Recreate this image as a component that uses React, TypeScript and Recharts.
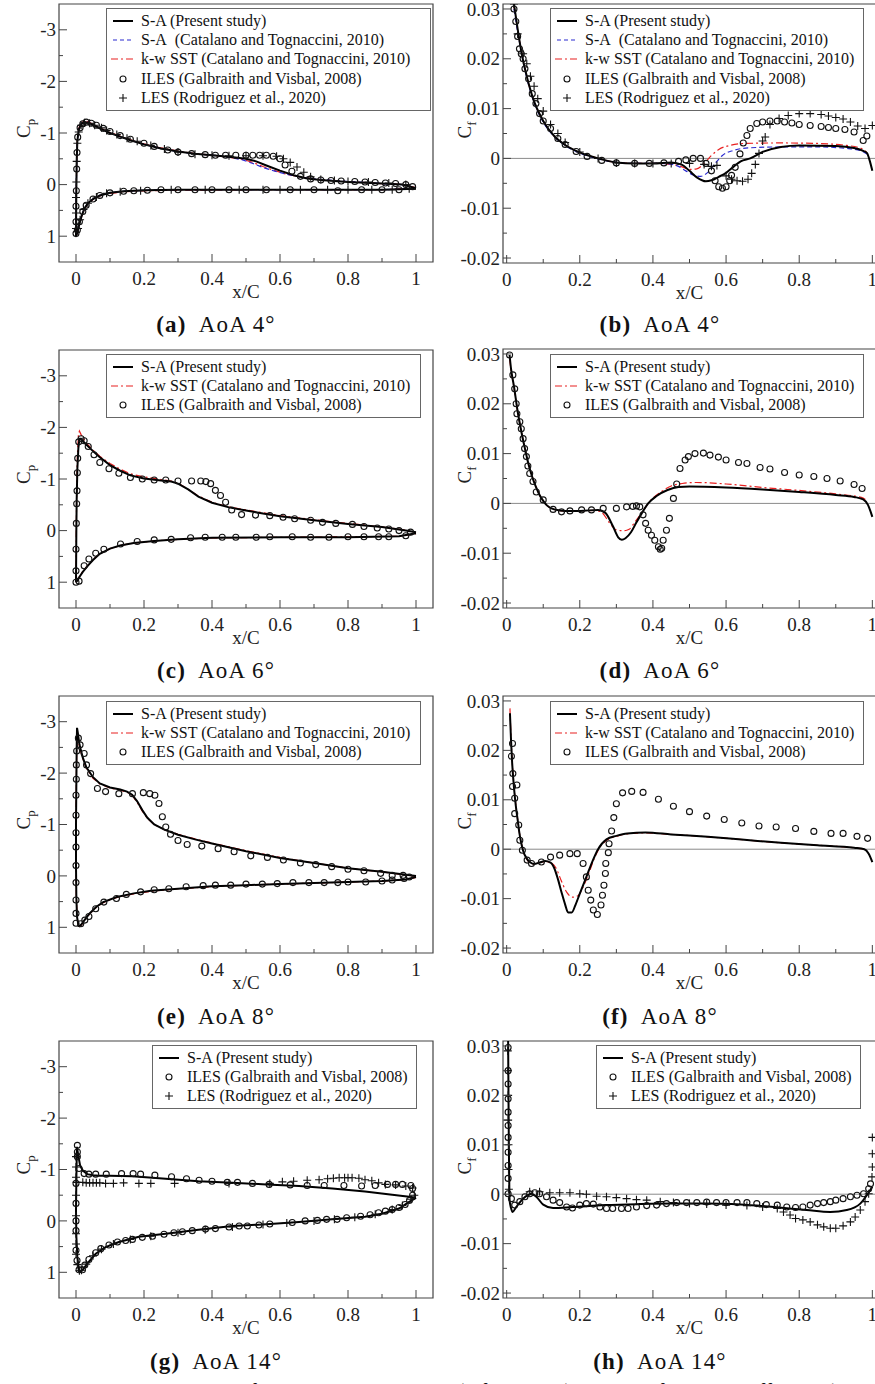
import React from "react";
import { ComposedChart, Line, Scatter, XAxis, YAxis, ReferenceLine, ReferenceArea, Legend } from "recharts";

const FONT = "'Liberation Serif', 'Times New Roman', serif";
const AXIS = "#444";
const TXT = "#222";
const BLUE = "#2a2ad0";
const RED = "#e82020";

// axis ticks
const X_TICKS = [0, 0.1, 0.2, 0.3, 0.4, 0.5, 0.6, 0.7, 0.8, 0.9, 1];
const X_LABELED = [0, 0.2, 0.4, 0.6, 0.8, 1];
const CP_TICKS = [-3, -2.5, -2, -1.5, -1, -0.5, 0, 0.5, 1];
const CP_LABELED = [-3, -2, -1, 0, 1];
const CF_TICKS = [-0.02, -0.015, -0.01, -0.005, 0, 0.005, 0.01, 0.015, 0.02, 0.025, 0.03];
const CF_LABELED = [-0.02, -0.01, 0, 0.01, 0.02, 0.03];

// ---- (a) Cp, AoA 4 ----
const A_SA_UP = [[0, 1.0], [0.0004, 0.6], [0.001, 0.1], [0.002, -0.45], [0.004, -0.85], [0.008, -1.06], [0.015, -1.17], [0.025, -1.21], [0.035, -1.2], [0.05, -1.16], [0.07, -1.09], [0.1, -1.0], [0.13, -0.93], [0.16, -0.86], [0.2, -0.78], [0.25, -0.7], [0.3, -0.64], [0.35, -0.6], [0.4, -0.57], [0.45, -0.54], [0.5, -0.5], [0.53, -0.45], [0.56, -0.37], [0.6, -0.27], [0.64, -0.18], [0.68, -0.12], [0.72, -0.09], [0.8, -0.05], [0.9, -0.02], [0.96, 0.0], [1.0, 0.07]];
const A_SA_LO = [[0, 1.0], [0.004, 0.93], [0.01, 0.76], [0.017, 0.6], [0.025, 0.46], [0.035, 0.36], [0.05, 0.28], [0.07, 0.21], [0.1, 0.16], [0.14, 0.13], [0.2, 0.11], [0.3, 0.1], [0.5, 0.1], [0.7, 0.1], [0.9, 0.1], [1.0, 0.08]];
const A_SAC_UP = [[0, 1.0], [0.0004, 0.6], [0.001, 0.1], [0.002, -0.45], [0.004, -0.86], [0.008, -1.07], [0.015, -1.18], [0.025, -1.22], [0.035, -1.21], [0.05, -1.16], [0.07, -1.09], [0.1, -1.0], [0.13, -0.93], [0.16, -0.86], [0.2, -0.78], [0.25, -0.7], [0.3, -0.64], [0.35, -0.6], [0.4, -0.57], [0.45, -0.53], [0.49, -0.48], [0.52, -0.41], [0.55, -0.33], [0.58, -0.27], [0.62, -0.2], [0.66, -0.15], [0.7, -0.11], [0.8, -0.06], [0.9, -0.02], [0.96, 0.0], [1.0, 0.06]];
const A_SAC_LO = [[0, 1.0], [0.004, 0.92], [0.01, 0.75], [0.017, 0.59], [0.025, 0.46], [0.035, 0.36], [0.05, 0.28], [0.07, 0.21], [0.1, 0.16], [0.14, 0.13], [0.2, 0.11], [0.3, 0.1], [0.5, 0.1], [0.7, 0.1], [0.9, 0.1], [1.0, 0.07]];
const A_KW_UP = [[0, 1.0], [0.0004, 0.6], [0.001, 0.1], [0.002, -0.47], [0.004, -0.88], [0.008, -1.09], [0.015, -1.2], [0.025, -1.23], [0.035, -1.22], [0.05, -1.17], [0.07, -1.1], [0.1, -1.01], [0.13, -0.94], [0.16, -0.87], [0.2, -0.79], [0.25, -0.71], [0.3, -0.65], [0.35, -0.6], [0.4, -0.57], [0.45, -0.53], [0.49, -0.49], [0.52, -0.43], [0.55, -0.35], [0.58, -0.28], [0.62, -0.2], [0.66, -0.15], [0.7, -0.11], [0.8, -0.06], [0.9, -0.02], [0.96, 0.0], [1.0, 0.06]];
const A_KW_LO = [[0, 1.0], [0.004, 0.94], [0.01, 0.77], [0.017, 0.61], [0.025, 0.47], [0.035, 0.37], [0.05, 0.29], [0.07, 0.22], [0.1, 0.17], [0.14, 0.14], [0.2, 0.12], [0.3, 0.11], [0.5, 0.1], [0.7, 0.1], [0.9, 0.1], [1.0, 0.07]];
const A_ILES = [[0, 0.95], [0, 0.72], [0, 0.42], [0.001, 0.12], [0.002, -0.3], [0.003, -0.62], [0.005, -0.92], [0.012, -1.1], [0.02, -1.18], [0.03, -1.21], [0.045, -1.19], [0.06, -1.15], [0.08, -1.09], [0.1, -1.03], [0.13, -0.95], [0.16, -0.88], [0.2, -0.8], [0.23, -0.74], [0.27, -0.67], [0.3, -0.63], [0.34, -0.6], [0.38, -0.58], [0.41, -0.57], [0.44, -0.57], [0.47, -0.57], [0.5, -0.57], [0.52, -0.57], [0.54, -0.57], [0.56, -0.57], [0.58, -0.55], [0.6, -0.5], [0.615, -0.38], [0.635, -0.26], [0.66, -0.16], [0.69, -0.11], [0.72, -0.09], [0.75, -0.08], [0.78, -0.07], [0.82, -0.06], [0.85, -0.05], [0.88, -0.04], [0.91, -0.03], [0.94, -0.02], [0.97, 0.0], [0.99, 0.04],
  [0.004, 0.88], [0.01, 0.72], [0.02, 0.52], [0.03, 0.4], [0.05, 0.28], [0.07, 0.21], [0.1, 0.16], [0.14, 0.13], [0.17, 0.12], [0.21, 0.11], [0.25, 0.1], [0.3, 0.1], [0.35, 0.1], [0.4, 0.1], [0.45, 0.1], [0.5, 0.1], [0.56, 0.1], [0.63, 0.1], [0.7, 0.1], [0.77, 0.12], [0.84, 0.1], [0.9, 0.1], [0.95, 0.1]];
const A_LES = [[0, 0.85], [0, 0.55], [0, 0.25], [0.001, -0.05], [0.002, -0.45], [0.004, -0.8], [0.008, -1.02], [0.015, -1.15], [0.025, -1.2], [0.04, -1.19], [0.055, -1.15], [0.075, -1.1], [0.09, -1.05], [0.12, -0.97], [0.15, -0.9], [0.18, -0.84], [0.22, -0.76], [0.26, -0.69], [0.3, -0.63], [0.35, -0.59], [0.4, -0.57], [0.45, -0.56], [0.5, -0.56], [0.55, -0.56], [0.59, -0.55], [0.61, -0.5], [0.63, -0.43], [0.65, -0.34], [0.67, -0.24], [0.69, -0.15], [0.72, -0.1], [0.76, -0.08], [0.8, -0.06], [0.86, -0.05], [0.92, -0.03], [0.97, 0.0],
  [0.006, 0.85], [0.012, 0.68], [0.022, 0.48], [0.035, 0.36], [0.06, 0.24], [0.09, 0.17], [0.13, 0.14], [0.19, 0.12], [0.28, 0.1], [0.38, 0.1], [0.48, 0.1], [0.55, 0.1], [0.6, 0.1], [0.66, 0.1], [0.74, 0.1], [0.8, 0.1], [0.87, 0.1], [0.93, 0.1], [0.98, 0.08]];

// ---- (b) Cf, AoA 4 ----
const B_SA = [[0.02, 0.031], [0.03, 0.026], [0.04, 0.0215], [0.05, 0.018], [0.07, 0.0125], [0.1, 0.0075], [0.13, 0.0045], [0.16, 0.0027], [0.2, 0.0012], [0.25, 0.0], [0.3, -0.0008], [0.35, -0.001], [0.4, -0.001], [0.45, -0.0008], [0.48, -0.0013], [0.5, -0.0025], [0.52, -0.0038], [0.545, -0.0046], [0.56, -0.0044], [0.58, -0.0037], [0.6, -0.0029], [0.62, -0.0017], [0.64, -0.0006], [0.666, 0.0], [0.7, 0.0013], [0.75, 0.0023], [0.8, 0.0026], [0.9, 0.0025], [0.95, 0.0021], [0.975, 0.0015], [0.985, 0.0011], [0.993, -0.0005], [1.0, -0.0025]];
const B_SAC = [[0.02, 0.03], [0.03, 0.0255], [0.05, 0.0178], [0.07, 0.0123], [0.1, 0.0073], [0.13, 0.0044], [0.16, 0.0026], [0.2, 0.0011], [0.25, -0.0001], [0.3, -0.0008], [0.35, -0.001], [0.4, -0.001], [0.44, -0.0011], [0.47, -0.0016], [0.49, -0.0025], [0.51, -0.0033], [0.53, -0.0036], [0.55, -0.0028], [0.57, -0.001], [0.59, 0.0006], [0.62, 0.0016], [0.66, 0.0021], [0.75, 0.0023], [0.85, 0.0023], [0.93, 0.002], [0.97, 0.0015], [0.985, 0.0009]];
const B_KW = [[0.02, 0.0305], [0.03, 0.0258], [0.05, 0.018], [0.07, 0.0125], [0.1, 0.0075], [0.13, 0.0045], [0.16, 0.0027], [0.2, 0.0012], [0.25, 0.0], [0.3, -0.0008], [0.35, -0.001], [0.4, -0.001], [0.45, -0.0012], [0.48, -0.0017], [0.5, -0.0022], [0.52, -0.0021], [0.54, -0.001], [0.56, 0.0006], [0.58, 0.0018], [0.61, 0.0026], [0.65, 0.003], [0.75, 0.0031], [0.85, 0.003], [0.93, 0.0026], [0.97, 0.002], [0.985, 0.0012]];
const B_ILES = [[0.02, 0.03], [0.025, 0.0275], [0.03, 0.0245], [0.035, 0.022], [0.04, 0.021], [0.045, 0.02], [0.05, 0.018], [0.06, 0.016], [0.07, 0.013], [0.08, 0.011], [0.09, 0.009], [0.1, 0.0075], [0.12, 0.006], [0.14, 0.004], [0.16, 0.0028], [0.19, 0.0014], [0.22, 0.0004], [0.26, -0.0004], [0.3, -0.0009], [0.35, -0.001], [0.39, -0.001], [0.43, -0.0009], [0.47, -0.0006], [0.49, -0.0003], [0.51, 0.0], [0.53, 0.0], [0.545, -0.001], [0.56, -0.0025], [0.57, -0.0045], [0.58, -0.0057], [0.59, -0.006], [0.6, -0.0057], [0.61, -0.0045], [0.615, -0.0034], [0.625, -0.0018], [0.638, 0.0009], [0.647, 0.0031], [0.657, 0.0046], [0.666, 0.006], [0.684, 0.007], [0.7, 0.0073], [0.72, 0.0075], [0.74, 0.0075], [0.76, 0.0073], [0.78, 0.0071], [0.8, 0.0068], [0.83, 0.0066], [0.86, 0.0064], [0.88, 0.0062], [0.9, 0.006], [0.925, 0.0058], [0.95, 0.0053], [0.975, 0.0036], [0.985, 0.0045]];
const B_LES = [[0.02, 0.031], [0.03, 0.025], [0.045, 0.021], [0.055, 0.019], [0.065, 0.0165], [0.075, 0.0145], [0.085, 0.012], [0.1, 0.0095], [0.12, 0.0068], [0.14, 0.005], [0.16, 0.0032], [0.2, 0.0013], [0.25, 0.0], [0.3, -0.0009], [0.35, -0.001], [0.4, -0.001], [0.45, -0.001], [0.5, -0.001], [0.54, -0.0012], [0.56, -0.0016], [0.575, -0.0014], [0.6, -0.0035], [0.615, -0.0042], [0.63, -0.0045], [0.645, -0.0046], [0.66, -0.0042], [0.67, -0.003], [0.68, -0.0012], [0.69, 0.001], [0.7, 0.0035], [0.707, 0.0043], [0.72, 0.0068], [0.745, 0.008], [0.77, 0.0086], [0.8, 0.009], [0.83, 0.009], [0.86, 0.0088], [0.88, 0.0085], [0.9, 0.0082], [0.92, 0.0079], [0.94, 0.0073], [0.96, 0.0065], [0.98, 0.006], [1.0, 0.0066]];

// ---- (c) Cp, AoA 6 ----
const C_SA_UP = [[0, 1.0], [0.0005, 0.5], [0.001, 0.0], [0.002, -0.6], [0.004, -1.2], [0.007, -1.6], [0.01, -1.78], [0.015, -1.78], [0.02, -1.74], [0.03, -1.67], [0.05, -1.54], [0.07, -1.42], [0.1, -1.27], [0.13, -1.16], [0.16, -1.07], [0.2, -1.01], [0.25, -0.97], [0.28, -0.95], [0.3, -0.91], [0.33, -0.8], [0.36, -0.66], [0.4, -0.54], [0.45, -0.45], [0.5, -0.39], [0.55, -0.33], [0.6, -0.28], [0.7, -0.2], [0.8, -0.13], [0.9, -0.07], [0.97, 0.0], [1.0, 0.03]];
const C_SA_LO = [[0, 1.0], [0.005, 0.96], [0.01, 0.9], [0.02, 0.8], [0.035, 0.68], [0.05, 0.57], [0.07, 0.45], [0.1, 0.35], [0.13, 0.29], [0.17, 0.24], [0.23, 0.2], [0.3, 0.17], [0.4, 0.14], [0.6, 0.13], [0.8, 0.13], [0.95, 0.11], [1.0, 0.05]];
const C_KW_UP = [[0, 1.0], [0.0005, 0.45], [0.001, -0.1], [0.002, -0.8], [0.004, -1.45], [0.007, -1.85], [0.01, -1.93], [0.015, -1.86], [0.02, -1.8], [0.03, -1.7], [0.05, -1.56], [0.07, -1.44], [0.1, -1.3], [0.13, -1.19], [0.16, -1.1], [0.2, -1.04], [0.25, -0.99], [0.28, -0.96], [0.3, -0.92], [0.33, -0.8], [0.36, -0.67], [0.4, -0.55], [0.45, -0.46], [0.5, -0.4], [0.6, -0.29], [0.7, -0.21], [0.8, -0.14], [0.9, -0.07], [0.97, -0.01], [1.0, 0.04]];
const C_KW_LO = [[0, 1.0], [0.005, 0.95], [0.01, 0.89], [0.02, 0.79], [0.035, 0.67], [0.05, 0.56], [0.07, 0.45], [0.1, 0.35], [0.13, 0.29], [0.17, 0.24], [0.23, 0.2], [0.3, 0.17], [0.4, 0.14], [0.6, 0.13], [0.8, 0.12], [0.95, 0.11], [1.0, 0.06]];
const C_ILES = [[0, 1.0], [0, 0.78], [0, 0.36], [0.001, -0.14], [0.002, -0.52], [0.003, -0.77], [0.004, -1.12], [0.005, -1.4], [0.008, -1.72], [0.015, -1.78], [0.024, -1.74], [0.036, -1.63], [0.053, -1.47], [0.07, -1.32], [0.097, -1.2], [0.126, -1.11], [0.16, -1.03], [0.195, -1.0], [0.23, -0.98], [0.264, -0.98], [0.3, -0.96], [0.34, -0.96], [0.367, -0.96], [0.382, -0.95], [0.396, -0.91], [0.41, -0.78], [0.425, -0.68], [0.44, -0.55], [0.458, -0.4], [0.487, -0.31], [0.528, -0.3], [0.57, -0.29], [0.609, -0.26], [0.643, -0.23], [0.69, -0.2], [0.725, -0.16], [0.764, -0.14], [0.813, -0.12], [0.847, -0.08], [0.886, -0.05], [0.92, -0.03], [0.95, 0.0], [0.984, 0.03],
  [0.009, 0.98], [0.024, 0.68], [0.038, 0.55], [0.058, 0.44], [0.082, 0.36], [0.131, 0.26], [0.18, 0.21], [0.23, 0.18], [0.28, 0.17], [0.337, 0.14], [0.38, 0.13], [0.43, 0.13], [0.47, 0.13], [0.53, 0.13], [0.57, 0.12], [0.636, 0.12], [0.69, 0.13], [0.744, 0.13], [0.8, 0.12], [0.847, 0.12], [0.89, 0.12], [0.92, 0.12], [0.97, 0.1]];

// ---- (d) Cf, AoA 6 ----
const D_SA = [[0.008, 0.0298], [0.012, 0.027], [0.02, 0.0235], [0.03, 0.0185], [0.04, 0.0145], [0.05, 0.011], [0.06, 0.0078], [0.07, 0.0053], [0.08, 0.0033], [0.09, 0.0017], [0.1, 0.0005], [0.11, -0.0004], [0.13, -0.0012], [0.16, -0.0015], [0.2, -0.0015], [0.25, -0.0013], [0.27, -0.0019], [0.29, -0.0045], [0.305, -0.0068], [0.315, -0.0073], [0.325, -0.007], [0.34, -0.0058], [0.355, -0.0038], [0.37, -0.0019], [0.387, 0.0], [0.41, 0.0015], [0.44, 0.0027], [0.47, 0.0033], [0.5, 0.0034], [0.6, 0.0032], [0.7, 0.0028], [0.8, 0.0023], [0.9, 0.0017], [0.95, 0.0013], [0.975, 0.0008], [0.988, -0.0003], [1.0, -0.0027]];
const D_KW = [[0.008, 0.029], [0.012, 0.0268], [0.02, 0.0233], [0.03, 0.0185], [0.04, 0.0145], [0.05, 0.011], [0.06, 0.0078], [0.07, 0.0054], [0.08, 0.0034], [0.09, 0.0017], [0.1, 0.0005], [0.11, -0.0004], [0.13, -0.0012], [0.16, -0.0015], [0.2, -0.0015], [0.24, -0.0014], [0.26, -0.0018], [0.28, -0.0038], [0.3, -0.0053], [0.32, -0.0055], [0.335, -0.0052], [0.35, -0.0038], [0.37, -0.0018], [0.39, 0.0003], [0.42, 0.0022], [0.45, 0.0035], [0.48, 0.004], [0.52, 0.0042], [0.6, 0.0039], [0.7, 0.0032], [0.8, 0.0026], [0.9, 0.0019], [0.97, 0.0012], [0.985, 0.0006]];
const D_ILES = [[0.008, 0.0298], [0.017, 0.0258], [0.022, 0.023], [0.026, 0.02], [0.028, 0.018], [0.036, 0.0164], [0.04, 0.015], [0.045, 0.013], [0.049, 0.011], [0.054, 0.0094], [0.058, 0.0075], [0.063, 0.006], [0.072, 0.0044], [0.081, 0.0023], [0.1, 0.0007], [0.127, -0.0012], [0.15, -0.0017], [0.173, -0.0015], [0.205, -0.0013], [0.232, -0.0013], [0.264, -0.001], [0.3, -0.001], [0.328, -0.0007], [0.345, -0.0006], [0.355, -0.0005], [0.364, -0.0007], [0.373, -0.0023], [0.38, -0.004], [0.387, -0.0054], [0.396, -0.0064], [0.405, -0.0074], [0.415, -0.0087], [0.42, -0.0092], [0.424, -0.009], [0.428, -0.0074], [0.437, -0.0054], [0.445, -0.003], [0.456, 0.001], [0.465, 0.0039], [0.474, 0.007], [0.488, 0.0087], [0.497, 0.0094], [0.515, 0.01], [0.538, 0.0101], [0.556, 0.0097], [0.579, 0.0093], [0.6, 0.0087], [0.634, 0.0082], [0.657, 0.008], [0.693, 0.0072], [0.72, 0.0069], [0.76, 0.0062], [0.8, 0.0057], [0.84, 0.0054], [0.876, 0.005], [0.912, 0.0045], [0.95, 0.0038], [0.972, 0.003]];

// ---- (e) Cp, AoA 8 ----
const E_SA_UP = [[0.008, 0.99], [0.003, 0.8], [0.001, 0.4], [0.0, -0.2], [0.0, -1.0], [0.001, -1.8], [0.002, -2.5], [0.003, -2.88], [0.005, -2.8], [0.01, -2.56], [0.02, -2.3], [0.03, -2.12], [0.05, -1.92], [0.07, -1.8], [0.1, -1.72], [0.13, -1.68], [0.15, -1.64], [0.165, -1.58], [0.18, -1.45], [0.195, -1.28], [0.21, -1.13], [0.23, -1.0], [0.26, -0.9], [0.3, -0.8], [0.35, -0.71], [0.4, -0.63], [0.5, -0.48], [0.6, -0.35], [0.7, -0.25], [0.8, -0.15], [0.9, -0.08], [1.0, 0.0]];
const E_SA_LO = [[0.008, 0.99], [0.015, 0.95], [0.025, 0.86], [0.04, 0.73], [0.06, 0.6], [0.08, 0.51], [0.12, 0.41], [0.17, 0.34], [0.22, 0.29], [0.3, 0.25], [0.4, 0.2], [0.5, 0.18], [0.6, 0.16], [0.7, 0.14], [0.8, 0.12], [0.9, 0.1], [0.97, 0.07], [1.0, 0.02]];
const E_KW_UP = [[0.008, 0.99], [0.003, 0.8], [0.001, 0.4], [0.0, -0.2], [0.0, -1.0], [0.001, -1.8], [0.002, -2.45], [0.004, -2.78], [0.006, -2.72], [0.01, -2.52], [0.02, -2.28], [0.03, -2.1], [0.05, -1.9], [0.07, -1.79], [0.1, -1.71], [0.13, -1.67], [0.15, -1.63], [0.165, -1.57], [0.18, -1.43], [0.195, -1.26], [0.21, -1.12], [0.23, -1.0], [0.26, -0.9], [0.3, -0.81], [0.35, -0.72], [0.4, -0.64], [0.5, -0.49], [0.6, -0.36], [0.7, -0.25], [0.8, -0.15], [0.9, -0.08], [1.0, 0.01]];
const E_KW_LO = [[0.008, 0.99], [0.015, 0.96], [0.025, 0.87], [0.04, 0.74], [0.06, 0.61], [0.08, 0.52], [0.12, 0.42], [0.17, 0.35], [0.22, 0.3], [0.3, 0.25], [0.4, 0.21], [0.5, 0.18], [0.6, 0.16], [0.7, 0.14], [0.8, 0.12], [0.9, 0.1], [0.97, 0.07], [1.0, 0.03]];
const E_ILES = [[0, 0.92], [0, 0.73], [0, 0.47], [0, 0.13], [0, -0.2], [0, -0.56], [0, -0.84], [0, -1.18], [0, -1.57], [0.001, -1.88], [0.001, -2.16], [0.002, -2.43], [0.007, -2.68], [0.012, -2.55], [0.024, -2.38], [0.031, -2.16], [0.043, -1.99], [0.063, -1.7], [0.087, -1.64], [0.126, -1.6], [0.166, -1.6], [0.198, -1.62], [0.217, -1.6], [0.232, -1.57], [0.244, -1.41], [0.254, -1.15], [0.264, -0.95], [0.278, -0.81], [0.3, -0.69], [0.327, -0.61], [0.37, -0.58], [0.418, -0.53], [0.465, -0.47], [0.514, -0.39], [0.563, -0.36], [0.61, -0.31], [0.66, -0.25], [0.705, -0.22], [0.752, -0.18], [0.8, -0.13], [0.847, -0.1], [0.896, -0.05], [0.93, -0.01], [0.962, -0.01], [0.98, 0.02],
  [0.014, 0.93], [0.026, 0.86], [0.038, 0.79], [0.058, 0.64], [0.082, 0.51], [0.119, 0.44], [0.148, 0.36], [0.19, 0.31], [0.23, 0.27], [0.273, 0.25], [0.324, 0.21], [0.374, 0.19], [0.41, 0.18], [0.455, 0.18], [0.5, 0.16], [0.548, 0.16], [0.592, 0.15], [0.638, 0.13], [0.685, 0.13], [0.73, 0.13], [0.77, 0.13], [0.8, 0.12], [0.852, 0.12], [0.9, 0.1], [0.93, 0.08], [0.965, 0.05]];

// ---- (f) Cf, AoA 8 ----
const F_SA = [[0.009, 0.0275], [0.012, 0.022], [0.015, 0.0175], [0.02, 0.0125], [0.025, 0.0088], [0.03, 0.006], [0.035, 0.0032], [0.04, 0.0012], [0.045, -0.0003], [0.055, -0.0019], [0.065, -0.0027], [0.075, -0.003], [0.09, -0.0027], [0.105, -0.0024], [0.12, -0.0027], [0.13, -0.0038], [0.14, -0.006], [0.15, -0.0087], [0.16, -0.0112], [0.168, -0.0128], [0.178, -0.0128], [0.188, -0.0113], [0.2, -0.009], [0.218, -0.0056], [0.236, -0.0022], [0.25, 0.0], [0.273, 0.002], [0.3, 0.0027], [0.33, 0.0032], [0.38, 0.0034], [0.45, 0.003], [0.55, 0.0025], [0.65, 0.0019], [0.75, 0.0013], [0.85, 0.0008], [0.95, 0.0003], [0.978, 0.0], [0.99, -0.0009], [1.0, -0.0026]];
const F_KW = [[0.009, 0.0285], [0.012, 0.0225], [0.015, 0.018], [0.02, 0.0128], [0.025, 0.009], [0.03, 0.0061], [0.035, 0.0033], [0.04, 0.0013], [0.045, -0.0003], [0.055, -0.002], [0.065, -0.0028], [0.075, -0.003], [0.09, -0.0027], [0.105, -0.0025], [0.12, -0.0027], [0.135, -0.0038], [0.15, -0.0065], [0.165, -0.0088], [0.18, -0.0097], [0.195, -0.0094], [0.21, -0.0075], [0.225, -0.0048], [0.24, -0.0018], [0.255, 0.0004], [0.27, 0.0016], [0.3, 0.0026], [0.33, 0.0031], [0.38, 0.0033], [0.45, 0.003], [0.55, 0.0025], [0.65, 0.0019], [0.75, 0.0013], [0.85, 0.0008], [0.95, 0.0003], [0.98, 0.0]];
const F_ILES = [[0.016, 0.0214], [0.013, 0.0188], [0.017, 0.0153], [0.016, 0.0127], [0.028, 0.013], [0.022, 0.0103], [0.022, 0.0072], [0.033, 0.0049], [0.036, 0.0018], [0.043, -0.0002], [0.056, -0.0022], [0.068, -0.0029], [0.095, -0.0026], [0.12, -0.0016], [0.145, -0.0012], [0.173, -0.0009], [0.193, -0.0009], [0.209, -0.0029], [0.218, -0.0056], [0.223, -0.0083], [0.23, -0.0103], [0.237, -0.0123], [0.248, -0.0132], [0.258, -0.0113], [0.262, -0.0093], [0.266, -0.0073], [0.27, -0.0049], [0.271, -0.0029], [0.278, -0.0007], [0.28, 0.0011], [0.287, 0.0037], [0.293, 0.0064], [0.3, 0.0092], [0.317, 0.0114], [0.342, 0.0117], [0.373, 0.0115], [0.415, 0.0101], [0.456, 0.0087], [0.5, 0.0076], [0.547, 0.0067], [0.595, 0.006], [0.643, 0.0053], [0.69, 0.0047], [0.737, 0.0045], [0.79, 0.0042], [0.84, 0.0036], [0.887, 0.0032], [0.92, 0.0032], [0.958, 0.0026], [0.987, 0.0022]];

// ---- (g) Cp, AoA 14 ----
const G_SA_UP = [[0.009, 0.99], [0.004, 0.7], [0.001, 0.3], [0.0, -0.2], [0.001, -0.8], [0.002, -1.2], [0.003, -1.44], [0.006, -1.3], [0.012, -1.08], [0.02, -0.98], [0.033, -0.91], [0.05, -0.89], [0.068, -0.88], [0.1, -0.88], [0.166, -0.87], [0.264, -0.82], [0.36, -0.77], [0.46, -0.74], [0.56, -0.71], [0.656, -0.68], [0.754, -0.63], [0.85, -0.57], [0.93, -0.51], [0.98, -0.47], [1.0, -0.45]];
const G_SA_LO = [[0.009, 0.99], [0.019, 0.96], [0.033, 0.83], [0.058, 0.64], [0.087, 0.51], [0.126, 0.41], [0.185, 0.31], [0.264, 0.25], [0.36, 0.17], [0.46, 0.1], [0.56, 0.065], [0.656, 0.02], [0.754, -0.03], [0.85, -0.08], [0.9, -0.14], [0.95, -0.24], [0.98, -0.37], [1.0, -0.45]];
const G_ILES = [[0.004, -1.47], [0.004, -1.34], [0.004, -1.25], [0.009, -1.02], [0.024, -0.92], [0.038, -0.91], [0.058, -0.91], [0.089, -0.91], [0.134, -0.92], [0.168, -0.92], [0.19, -0.91], [0.232, -0.89], [0.281, -0.86], [0.325, -0.82], [0.362, -0.79], [0.4, -0.77], [0.445, -0.75], [0.475, -0.75], [0.519, -0.73], [0.568, -0.71], [0.63, -0.7], [0.68, -0.69], [0.73, -0.69], [0.788, -0.69], [0.84, -0.68], [0.88, -0.69], [0.916, -0.71], [0.94, -0.71], [0.96, -0.71], [0.985, -0.69], [0.99, -0.63],
  [0, -0.73], [0, -0.34], [0, 0.0], [0, 0.19], [0, 0.57], [0.003, 0.77], [0.009, 0.95],
  [0.019, 0.95], [0.026, 0.86], [0.038, 0.75], [0.058, 0.62], [0.073, 0.54], [0.097, 0.47], [0.122, 0.41], [0.146, 0.38], [0.166, 0.36], [0.195, 0.32], [0.225, 0.3], [0.259, 0.26], [0.288, 0.23], [0.313, 0.21], [0.342, 0.19], [0.381, 0.16], [0.41, 0.15], [0.45, 0.12], [0.48, 0.1], [0.504, 0.1], [0.538, 0.08], [0.57, 0.06], [0.636, 0.03], [0.674, 0.0], [0.71, -0.01], [0.737, -0.03], [0.768, -0.03], [0.796, -0.06], [0.837, -0.09], [0.865, -0.12], [0.89, -0.16], [0.91, -0.19], [0.93, -0.22], [0.95, -0.26], [0.968, -0.32], [0.981, -0.4], [0.99, -0.5]];
const G_LES = [[0.02, -0.75], [0.03, -0.74], [0.04, -0.74], [0.05, -0.74], [0.06, -0.74], [0.07, -0.74], [0.087, -0.73], [0.11, -0.73], [0.14, -0.74], [0.185, -0.73], [0.22, -0.73], [0.29, -0.73], [0.45, -0.73], [0.57, -0.73], [0.607, -0.76], [0.64, -0.77], [0.68, -0.79], [0.715, -0.8], [0.74, -0.82], [0.757, -0.83], [0.774, -0.84], [0.79, -0.84], [0.8, -0.84], [0.812, -0.84], [0.832, -0.83], [0.85, -0.8], [0.87, -0.78], [0.89, -0.74], [0.91, -0.71], [0.94, -0.7], [0.97, -0.68], [0.99, -0.64],
  [0.0, -1.25], [0.0, -1.05], [0.0, -0.85], [0.002, -0.75], [0.0, -0.5], [0.0, -0.1], [0.0, 0.25], [0.0, 0.45], [0.0, 0.65], [0.004, 0.85], [0.01, 0.97],
  [0.016, 0.96], [0.03, 0.84], [0.05, 0.68], [0.075, 0.55], [0.11, 0.45], [0.16, 0.36], [0.22, 0.3], [0.3, 0.23], [0.38, 0.17], [0.46, 0.12], [0.55, 0.07], [0.62, 0.04], [0.7, 0.0], [0.76, -0.03], [0.82, -0.07], [0.88, -0.13], [0.93, -0.22], [0.96, -0.3], [0.985, -0.42], [0.995, -0.5]];

// ---- (h) Cf, AoA 14 ----
const H_SA = [[0.004, 0.031], [0.005, 0.02], [0.006, 0.01], [0.007, 0.003], [0.008, -0.0012], [0.012, -0.0028], [0.016, -0.0036], [0.026, -0.0026], [0.045, -0.0009], [0.058, -0.0002], [0.068, 0.0001], [0.081, -0.0005], [0.1, -0.0021], [0.127, -0.0028], [0.18, -0.0026], [0.27, -0.0022], [0.364, -0.002], [0.456, -0.0019], [0.547, -0.0019], [0.64, -0.0021], [0.73, -0.0026], [0.82, -0.0032], [0.885, -0.0036], [0.93, -0.0032], [0.967, -0.0019], [0.985, -0.0002], [1.0, 0.0015]];
const H_ILES = [[0.004, 0.0297], [0.004, 0.025], [0.004, 0.0223], [0.004, 0.0193], [0.004, 0.0166], [0.004, 0.0139], [0.004, 0.0115], [0.004, 0.0085], [0.004, 0.0058], [0.004, 0.0032], [0.004, 0.0001], [0.013, -0.0009], [0.022, -0.0022], [0.036, -0.0015], [0.05, -0.0005], [0.063, 0.0001], [0.077, 0.0003], [0.09, 0.0001], [0.109, -0.0005], [0.127, -0.0012], [0.145, -0.0017], [0.164, -0.0026], [0.18, -0.0028], [0.2, -0.0022], [0.218, -0.0019], [0.237, -0.002], [0.255, -0.0026], [0.273, -0.0029], [0.29, -0.0029], [0.314, -0.0029], [0.332, -0.0029], [0.355, -0.0026], [0.383, -0.0023], [0.41, -0.0022], [0.437, -0.0019], [0.465, -0.0017], [0.492, -0.0017], [0.52, -0.0017], [0.547, -0.0016], [0.574, -0.0017], [0.6, -0.0017], [0.63, -0.0017], [0.657, -0.0017], [0.684, -0.0019], [0.71, -0.0021], [0.74, -0.0022], [0.766, -0.0026], [0.79, -0.0027], [0.81, -0.0026], [0.83, -0.0022], [0.85, -0.0019], [0.867, -0.0017], [0.885, -0.0015], [0.9, -0.0012], [0.92, -0.0009], [0.94, -0.0005], [0.958, -0.0002], [0.976, 0.0001], [0.99, 0.0011], [0.995, 0.0021]];
const H_LES = [[0.003, 0.029], [0.003, 0.025], [0.004, 0.02], [0.004, 0.015], [0.005, 0.01], [0.005, 0.005], [0.006, 0.001], [0.063, 0.0005], [0.09, 0.0005], [0.118, 0.0003], [0.145, 0.0003], [0.173, 0.0003], [0.2, 0.0001], [0.218, 0.0], [0.246, -0.0004], [0.273, -0.0005], [0.3, -0.0007], [0.328, -0.0009], [0.355, -0.0011], [0.383, -0.0012], [0.42, -0.0015], [0.456, -0.0017], [0.5, -0.0019], [0.547, -0.002], [0.6, -0.0022], [0.657, -0.0023], [0.7, -0.0026], [0.74, -0.0029], [0.757, -0.0036], [0.775, -0.0042], [0.79, -0.0049], [0.81, -0.0052], [0.83, -0.0056], [0.85, -0.0062], [0.867, -0.0066], [0.885, -0.0069], [0.9, -0.0069], [0.92, -0.0064], [0.94, -0.0056], [0.953, -0.0046], [0.967, -0.0032], [0.98, -0.0015], [0.99, 0.0001], [0.999, 0.0035], [1.0, 0.0055], [1.0, 0.0082], [1.0, 0.0115]];

const pts = (a: number[][]) => a.map(([x, y]) => ({ x, y }));

const XTick = (p: any) => {
  const v = p.payload.value;
  const major = X_LABELED.some((m) => Math.abs(m - v) < 1e-9);
  return (
    <g>
      <line x1={p.x} x2={p.x} y1={p.y} y2={p.y - (major ? 8 : 4)} stroke={AXIS} strokeWidth={1} />
      {major && (
        <text x={p.x} y={p.y + 23} textAnchor="middle" fontFamily={FONT} fontSize={19} fill={TXT}>
          {String(v)}
        </text>
      )}
    </g>
  );
};

const makeYTick = (labeled: number[]) => (p: any) => {
  const v = p.payload.value;
  const major = labeled.some((m) => Math.abs(m - v) < 1e-9);
  return (
    <g>
      <line x1={p.x} x2={p.x + (major ? 8 : 4)} y1={p.y} y2={p.y} stroke={AXIS} strokeWidth={1} />
      {major && (
        <text x={p.x - 3} y={p.y} dy="0.35em" textAnchor="end" fontFamily={FONT} fontSize={19} fill={TXT}>
          {String(v)}
        </text>
      )}
    </g>
  );
};

const yTitle = (sub: string, bx: number) => (p: any) => {
  const vb = p.viewBox || { x: 0, y: 0, width: 0, height: 0 };
  const cy = vb.y + vb.height / 2 + 5;
  return (
    <text transform={`translate(${vb.x + bx},${cy}) rotate(-90)`} fontFamily={FONT} fontSize={19} fill={TXT}>
      C<tspan fontSize={13} dy={5}>{sub}</tspan>
    </text>
  );
};

const CircleMark = (p: any) => <circle cx={p.cx} cy={p.cy} r={3} fill="none" stroke="#111" strokeWidth={1.1} />;
const PlusMark = (p: any) => (
  <path d={`M${p.cx - 4},${p.cy}h8M${p.cx},${p.cy - 4}v8`} stroke="#111" strokeWidth={1.1} fill="none" />
);

const STYLE: any = {
  sa: { stroke: "#000", width: 2 },
  sac: { stroke: BLUE, width: 1.2, dash: "5 3" },
  kw: { stroke: RED, width: 1.2, dash: "7 3 2 3" },
};

const Sample = ({ kind }: { kind: string }) => (
  <svg width={34} height={14} style={{ flex: "none" }}>
    {kind === "sa" && <line x1={6} x2={26} y1={7} y2={7} stroke="#000" strokeWidth={2} />}
    {kind === "sac" && <line x1={6} x2={26} y1={7} y2={7} stroke={BLUE} strokeWidth={1.2} strokeDasharray="4 3" />}
    {kind === "kw" && <line x1={4} x2={28} y1={7} y2={7} stroke={RED} strokeWidth={1.2} strokeDasharray="7 3 2 3" />}
    {kind === "iles" && <circle cx={16} cy={7} r={3} fill="none" stroke="#111" strokeWidth={1.1} />}
    {kind === "les" && <path d="M12,7h8M16,3v8" stroke="#111" strokeWidth={1.1} />}
  </svg>
);

const LABELS: Record<string, string> = {
  sa: "S-A (Present study)",
  sac: "S-A\u00a0 (Catalano and Tognaccini, 2010)",
  kw: "k-w SST (Catalano and Tognaccini, 2010)",
  iles: "ILES (Galbraith and Visbal, 2008)",
  les: "LES (Rodriguez et al., 2020)",
};

const LegendBox = ({ rows, width }: { rows: string[]; width: number }) => (
  <div style={{ width, boxSizing: "border-box", border: "1px solid #666", background: "#fff", padding: "2px 0", fontFamily: FONT, fontSize: 16, color: "#111" }}>
    {rows.map((r) => (
      <div key={r} style={{ height: 19.4, display: "flex", alignItems: "center", whiteSpace: "nowrap" }}>
        <Sample kind={r} />
        <span>{LABELS[r]}</span>
      </div>
    ))}
  </div>
);

type Series = { kind: string; data: number[][]; curve?: "linear" | "monotone" };

type PanelProps = {
  box: { left: number; top: number; w: number; h: number };
  xDomain: [number, number];
  yDomain: [number, number];
  cp: boolean;
  series: Series[];
  legend: string[];
  legendBox: { left: number; top: number; width: number };
};

function Panel({ box, xDomain, yDomain, cp, series, legend, legendBox }: PanelProps) {
  const cl = box.left - 60;
  const ct = box.top - 6;
  const W = box.w + 70;
  const H = box.h + 51;
  return (
    <div style={{ position: "absolute", left: cl, top: ct, width: W, height: H }}>
      <ComposedChart width={W} height={H} margin={{ top: 6, right: 10, bottom: 0, left: 0 }}>
        <XAxis
          dataKey="x"
          type="number"
          domain={xDomain}
          allowDataOverflow
          ticks={X_TICKS}
          interval={0}
          tick={XTick}
          tickLine={false}
          axisLine={false}
          tickSize={0}
          tickMargin={0}
          height={45}
          label={{ value: "x/C", position: "insideBottom", offset: 9, fill: TXT, fontSize: 19, fontFamily: FONT }}
        />
        <YAxis
          dataKey="y"
          type="number"
          domain={yDomain}
          reversed={cp}
          allowDataOverflow
          ticks={cp ? CP_TICKS : CF_TICKS}
          interval={0}
          tick={makeYTick(cp ? CP_LABELED : CF_LABELED)}
          tickLine={false}
          axisLine={false}
          tickSize={0}
          tickMargin={0}
          width={60}
          label={yTitle(cp ? "p" : "f", cp ? 31 : 28)}
        />
        {!cp && <ReferenceLine y={0} stroke="#8a8a8a" strokeWidth={1} />}
        {series.map((s, i) =>
          s.kind === "iles" || s.kind === "les" ? (
            <Scatter
              key={i}
              data={pts(s.data)}
              dataKey="y"
              shape={s.kind === "iles" ? CircleMark : PlusMark}
              isAnimationActive={false}
            />
          ) : (
            <Line
              key={i}
              data={pts(s.data)}
              dataKey="y"
              type={s.curve || (cp ? "linear" : "monotone")}
              stroke={STYLE[s.kind].stroke}
              strokeWidth={STYLE[s.kind].width}
              strokeDasharray={STYLE[s.kind].dash}
              dot={false}
              activeDot={false}
              isAnimationActive={false}
            />
          )
        )}
        <ReferenceArea x1={xDomain[0]} x2={xDomain[1]} y1={yDomain[0]} y2={yDomain[1]} fill="none" stroke={AXIS} strokeWidth={1.2} />
        <Legend
          layout="vertical"
          align="center"
          verticalAlign="middle"
          wrapperStyle={{ left: legendBox.left - cl, top: legendBox.top - ct, width: legendBox.width, height: "auto", right: "auto", bottom: "auto" }}
          content={() => <LegendBox rows={legend} width={legendBox.width} />}
        />
      </ComposedChart>
    </div>
  );
}

const CP_DOMAIN: [number, number] = [-3.5, 1.5];
const CF_DOMAIN: [number, number] = [-0.021, 0.031];
const XL: [number, number] = [-0.05, 1.05];
const XR: [number, number] = [-0.01, 1.01];

const Caption = ({ cx, baseline, tag, text }: { cx: number; baseline: number; tag: string; text: string }) => (
  <div
    style={{
      position: "absolute",
      left: cx - 150,
      width: 300,
      top: baseline - 18.4,
      textAlign: "center",
      fontFamily: FONT,
      fontSize: 23,
      lineHeight: "23px",
      letterSpacing: 1.2,
      color: "#111",
      whiteSpace: "nowrap",
    }}
  >
    <b style={{ marginRight: 12 }}>{tag}</b>
    {text}
  </div>
);

export default function App() {
  return (
    <div style={{ position: "absolute", left: 0, top: 0, width: 875, height: 1384, overflow: "hidden", background: "#fff" }}>
      <Panel
        box={{ left: 59, top: 4, w: 374, h: 258 }}
        xDomain={XL}
        yDomain={CP_DOMAIN}
        cp
        series={[
          { kind: "kw", data: A_KW_UP }, { kind: "kw", data: A_KW_LO },
          { kind: "sac", data: A_SAC_UP }, { kind: "sac", data: A_SAC_LO },
          { kind: "sa", data: A_SA_UP }, { kind: "sa", data: A_SA_LO },
          { kind: "iles", data: A_ILES }, { kind: "les", data: A_LES },
        ]}
        legend={["sa", "sac", "kw", "iles", "les"]}
        legendBox={{ left: 106, top: 8, width: 325 }}
      />
      <Panel
        box={{ left: 503, top: 4, w: 373, h: 259 }}
        xDomain={XR}
        yDomain={CF_DOMAIN}
        cp={false}
        series={[
          { kind: "kw", data: B_KW }, { kind: "sac", data: B_SAC }, { kind: "sa", data: B_SA },
          { kind: "iles", data: B_ILES }, { kind: "les", data: B_LES },
        ]}
        legend={["sa", "sac", "kw", "iles", "les"]}
        legendBox={{ left: 550, top: 8, width: 314 }}
      />
      <Panel
        box={{ left: 59, top: 350, w: 374, h: 258 }}
        xDomain={XL}
        yDomain={CP_DOMAIN}
        cp
        series={[
          { kind: "kw", data: C_KW_UP }, { kind: "kw", data: C_KW_LO },
          { kind: "sa", data: C_SA_UP }, { kind: "sa", data: C_SA_LO },
          { kind: "iles", data: C_ILES },
        ]}
        legend={["sa", "kw", "iles"]}
        legendBox={{ left: 106, top: 354, width: 315 }}
      />
      <Panel
        box={{ left: 503, top: 349, w: 373, h: 259 }}
        xDomain={XR}
        yDomain={CF_DOMAIN}
        cp={false}
        series={[{ kind: "kw", data: D_KW }, { kind: "sa", data: D_SA }, { kind: "iles", data: D_ILES }]}
        legend={["sa", "kw", "iles"]}
        legendBox={{ left: 550, top: 354, width: 314 }}
      />
      <Panel
        box={{ left: 59, top: 696, w: 374, h: 257 }}
        xDomain={XL}
        yDomain={CP_DOMAIN}
        cp
        series={[
          { kind: "kw", data: E_KW_UP }, { kind: "kw", data: E_KW_LO },
          { kind: "sa", data: E_SA_UP }, { kind: "sa", data: E_SA_LO },
          { kind: "iles", data: E_ILES },
        ]}
        legend={["sa", "kw", "iles"]}
        legendBox={{ left: 106, top: 701, width: 315 }}
      />
      <Panel
        box={{ left: 503, top: 696, w: 373, h: 257 }}
        xDomain={XR}
        yDomain={CF_DOMAIN}
        cp={false}
        series={[{ kind: "kw", data: F_KW }, { kind: "sa", data: F_SA }, { kind: "iles", data: F_ILES }]}
        legend={["sa", "kw", "iles"]}
        legendBox={{ left: 550, top: 701, width: 314 }}
      />
      <Panel
        box={{ left: 59, top: 1041, w: 374, h: 257 }}
        xDomain={XL}
        yDomain={CP_DOMAIN}
        cp
        series={[
          { kind: "sa", data: G_SA_UP }, { kind: "sa", data: G_SA_LO },
          { kind: "iles", data: G_ILES }, { kind: "les", data: G_LES },
        ]}
        legend={["sa", "iles", "les"]}
        legendBox={{ left: 152, top: 1045, width: 265 }}
      />
      <Panel
        box={{ left: 503, top: 1041, w: 373, h: 257 }}
        xDomain={XR}
        yDomain={CF_DOMAIN}
        cp={false}
        series={[{ kind: "sa", data: H_SA }, { kind: "iles", data: H_ILES }, { kind: "les", data: H_LES }]}
        legend={["sa", "iles", "les"]}
        legendBox={{ left: 596, top: 1045, width: 265 }}
      />

      <Caption cx={216} baseline={331} tag="(a)" text="AoA 4°" />
      <Caption cx={660} baseline={331} tag="(b)" text="AoA 4°" />
      <Caption cx={216} baseline={677} tag="(c)" text="AoA 6°" />
      <Caption cx={660} baseline={677} tag="(d)" text="AoA 6°" />
      <Caption cx={216} baseline={1023} tag="(e)" text="AoA 8°" />
      <Caption cx={660} baseline={1023} tag="(f)" text="AoA 8°" />
      <Caption cx={216} baseline={1368} tag="(g)" text="AoA 14°" />
      <Caption cx={660} baseline={1368} tag="(h)" text="AoA 14°" />

      <div style={{ position: "absolute", left: 40, top: 1398.5 - 18.4, fontFamily: FONT, fontSize: 22, lineHeight: "22px", color: "#111", whiteSpace: "nowrap" }}>
        Figure 5: Comparison of pressure distributions (left column) and skin friction coefficient (right column) at each AoA
      </div>
    </div>
  );
}
